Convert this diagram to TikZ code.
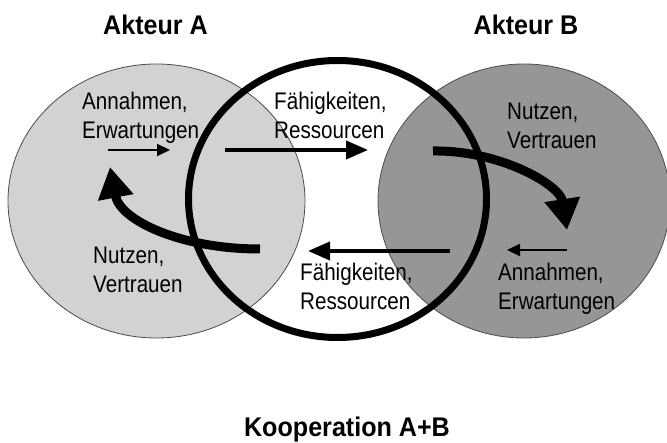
\documentclass[tikz,border=0pt]{standalone}
\usepackage{fontspec}
\setmainfont{Liberation Sans}
\usetikzlibrary{arrows.meta}
\definecolor{actorA}{HTML}{D2D2D2}
\definecolor{actorB}{HTML}{969696}
\begin{document}
\begin{tikzpicture}[x=1pt,y=-1pt,
  lbl/.style={anchor=base west, inner sep=0pt, font=\fontsize{24}{29}\selectfont, xscale=0.86},
  ttl/.style={anchor=base, inner sep=0pt, font=\bfseries\fontsize{27}{32}\selectfont, xscale=0.93},
  thinarrow/.style={line width=2pt, -{Triangle[length=13pt,width=12pt]}},
  midarrow/.style={line width=4pt, -{Triangle[length=22pt,width=18pt]}},
  bigarrow/.style={line width=9pt, -{Triangle[length=31pt,width=34pt]}},
  actor/.style={draw=black!70, line width=0.8pt},
]
\useasboundingbox (0,0) rectangle (667,443);

% actor circles
\filldraw[actor, fill=actorA] (156.5,201) ellipse [x radius=148.5pt, y radius=137pt];
\filldraw[actor, fill=actorB] (524,201) ellipse [x radius=146pt, y radius=137pt];

% titles
\node[ttl] (tA) at (155.5,35) {Akteur A};
\node[ttl] (tB) at (526,35) {Akteur B};
\node[ttl] (tK) at (347,437) {Kooperation A+B};

% labels of actor A
\node[lbl] (aAnn1) at (82,110) {Annahmen,};
\node[lbl] (aAnn2) at (82,139) {Erwartungen};
\node[lbl] (aNut1) at (93,264) {Nutzen,};
\node[lbl] (aNut2) at (93,293) {Vertrauen};
% labels of the cooperation
\node[lbl] (kTop1) at (274,110) {Fähigkeiten,};
\node[lbl] (kTop2) at (274,139) {Ressourcen};
\node[lbl] (kBot1) at (300,281) {Fähigkeiten,};
\node[lbl] (kBot2) at (300,310) {Ressourcen};
% labels of actor B
\node[lbl] (bNut1) at (507,120) {Nutzen,};
\node[lbl] (bNut2) at (507,149) {Vertrauen};
\node[lbl] (bAnn1) at (498,281) {Annahmen,};
\node[lbl] (bAnn2) at (498,310) {Erwartungen};

% cooperation ring
\draw[line width=7pt] (337.5,199) ellipse [x radius=149pt, y radius=138.5pt];

% arrow end points
\coordinate (aThinS) at (108,150);
\coordinate (aThinE) at (170,150);
\coordinate (topS) at (225,150);
\coordinate (topE) at (368,150);
\coordinate (botS) at (450,251);
\coordinate (botE) at (308,251);
\coordinate (bThinS) at (567,250);
\coordinate (bThinE) at (507,250);
\coordinate (aBigS) at (260,249);
\coordinate (aBigE) at (110,167);
\coordinate (bBigS) at (433,151);
\coordinate (bBigE) at (567,230);

% arrows
\draw[thinarrow] (aThinS) -- (aThinE);
\draw[midarrow] (topS) -- (topE);
\draw[midarrow] (botS) -- (botE);
\draw[thinarrow] (bThinS) -- (bThinE);
\draw[bigarrow] (aBigS) .. controls (180,249) and (120,220) .. (aBigE);
\draw[bigarrow] (bBigS) .. controls (500,150) and (560,185) .. (bBigE);
\end{tikzpicture}
\end{document}
